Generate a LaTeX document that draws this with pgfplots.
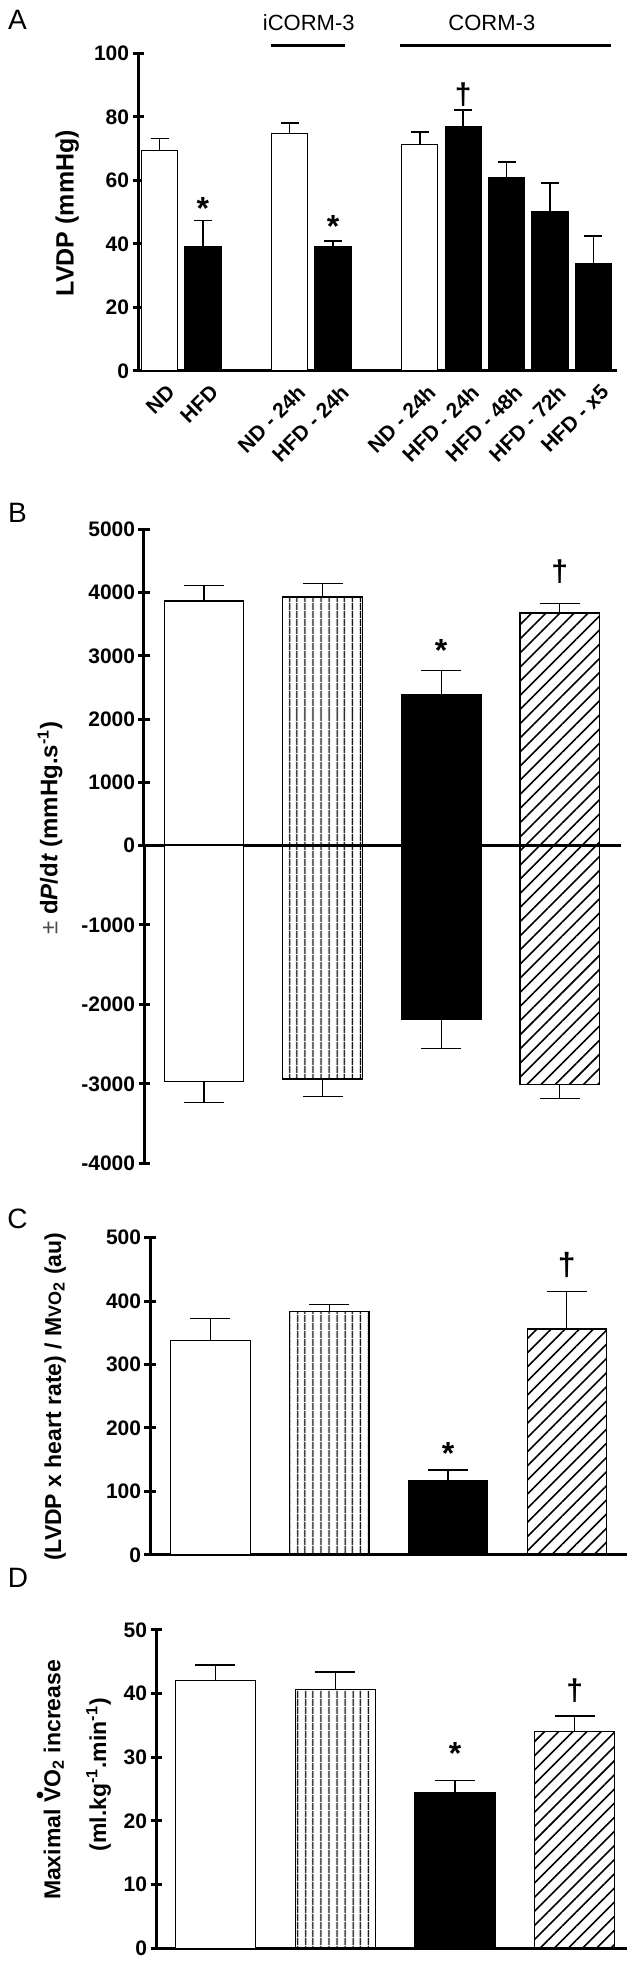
\documentclass[border=0pt]{standalone}
\usepackage{fontspec}
\setmainfont{Liberation Sans}
\usepackage{pgfplots}
\pgfplotsset{compat=1.18}
\usetikzlibrary{patterns.meta}
\newcommand{\fs}[1]{\fontsize{#1}{#1}\selectfont}
\newcommand{\dotV}{\ooalign{V\cr\hidewidth\raisebox{0.55em}{\textbullet}\hidewidth\cr}}
\tikzset{
  astr/.style={font=\bfseries\fs{16}, inner sep=0pt, anchor=north},
  dag/.style={font=\bfseries\fs{15}, inner sep=0pt, anchor=center},
}
\pgfplotsset{
  mypanel/.style={
    scale only axis, anchor=south west, clip=false,
    tick align=outside, ytick pos=left,
    major tick length=5.5pt,
    major tick style={line width=1.5pt, black},
    yticklabel style={font=\bfseries\fs{10.5}, inner sep=1.5pt},
    /pgf/number format/assume math mode=true,
    ylabel style={anchor=center, font=\bfseries\fs{12}},
  },
  noarrows/.style={
    axis line style={-, line width=1.5pt},
    every outer x axis line/.append style={-},
    every outer y axis line/.append style={-},
    every inner x axis line/.append style={-},
    every inner y axis line/.append style={-},
    x axis line style={-}, y axis line style={-},
  },
  wbar/.style={ybar, bar shift=0pt, draw=black, line width=0.6pt, fill=white},
  bbar/.style={ybar, bar shift=0pt, draw=black, line width=0.6pt, fill=black},
  vbar/.style={ybar, bar shift=0pt, draw=black, line width=0.6pt, pattern={Lines[angle=90, distance=4pt, line width=0.7pt]}, pattern color=black},
  hbar/.style={ybar, bar shift=0pt, draw=black, line width=0.6pt, pattern={Lines[angle=45, distance=5pt, line width=0.8pt]}, pattern color=black},
  errup/.style 2 args={error bars/y dir=plus, error bars/y explicit, error bars/error bar style={line width=#1, black, solid}, error bars/error mark options={rotate=90, line width=#1, black, mark size=#2, solid}},
  errdn/.style 2 args={error bars/y dir=minus, error bars/y explicit, error bars/error bar style={line width=#1, black, solid}, error bars/error mark options={rotate=90, line width=#1, black, mark size=#2, solid}},
}
\begin{document}
\begin{tikzpicture}
\path[use as bounding box] (0,0) rectangle (321.5pt,982.5pt);
\node[font=\fs{14}] at (8.75pt,972.5pt) {A};
\node[font=\fs{14}] at (8.75pt,726pt) {B};
\node[font=\fs{14}] at (8.75pt,373pt) {C};
\node[font=\fs{14}] at (9pt,193.5pt) {D};

% ---------------- Panel A
\begin{axis}[mypanel, at={(69pt,797pt)}, width=239.4pt, height=158.85pt,
  axis x line=bottom, axis y line=left, noarrows,
  xmin=-0.496, xmax=10.54, ymin=0, ymax=100, ytick={0,20,40,60,80,100},
  xtick={0,1,3,4,6,7,8,9,10},
  xticklabels={ND,HFD,ND - 24h,HFD - 24h,ND - 24h,HFD - 24h,HFD - 48h,HFD - 72h,HFD - x5},
  xtick style={draw=none},
  xticklabel style={rotate=45, anchor=north east, font=\bfseries\fs{10.5}, inner sep=0pt, yshift=-4.5pt},
  ylabel={LVDP (mmHg)},
  ylabel style={at={(axis description cs:-0.148,0.497)}, font=\bfseries\fs{12.5}},
]
\addplot[wbar, bar width=18pt, errup={0.8pt}{4.5pt}]
  coordinates {(0,69.4) +- (0,3.8) (3,74.7) +- (0,3.3) (6,71.2) +- (0,4.0)};
\addplot[bbar, bar width=18pt, errup={0.8pt}{4.5pt}]
  coordinates {(1,39.1) +- (0,8.3) (4,39.1) +- (0,1.8) (7,76.9) +- (0,5.2) (8,60.9) +- (0,4.8) (9,50.3) +- (0,8.8) (10,33.8) +- (0,8.6)};
\addplot[line width=1.5pt, black] coordinates {(2.57,102.3) (4.27,102.3)};
\addplot[line width=1.5pt, black] coordinates {(5.54,102.3) (10.40,102.3)};
\node[font=\fs{11}] at (axis cs:3.44,109.5) {iCORM-3};
\node[font=\fs{11}] at (axis cs:7.66,109.5) {CORM-3};
\node[astr] at (axis cs:1,54.8) {*};
\node[astr] at (axis cs:4,49.1) {*};
\node[dag] at (axis cs:7,86.9) {†};
\end{axis}

% ---------------- Panel B (positive)
\begin{axis}[mypanel, at={(72pt,559.75pt)}, width=238.5pt, height=158pt,
  axis x line=bottom, axis y line=left, noarrows, axis on top,
  xmin=-0.506, xmax=3.516, ymin=0, ymax=5000,
  ytick={0,1000,2000,3000,4000,5000}, yticklabels={0,1000,2000,3000,4000,5000},
  xtick=\empty,
  ylabel={{\mdseries\color{black!70}±} d\textit{P}/d\textit{t} (mmHg.s\textsuperscript{-1})},
  ylabel style={at={(axis description cs:-0.197,0.055)}},
]
\addplot[wbar, bar width=39.75pt, errup={0.6pt}{10pt}] coordinates {(0,3870) +- (0,243)};
\addplot[vbar, bar width=39.75pt, errup={0.6pt}{10pt}] coordinates {(1,3932) +- (0,215)};
\addplot[bbar, bar width=39.75pt, errup={0.6pt}{10pt}] coordinates {(2,2390) +- (0,378)};
\addplot[hbar, bar width=39.75pt, errup={0.6pt}{10pt}] coordinates {(3,3678) +- (0,152)};
\node[astr] at (axis cs:2,3267) {*};
\node[dag] at (axis cs:3,4328) {†};
\end{axis}

% ---------------- Panel B (negative)
\begin{axis}[mypanel, at={(72pt,400.85pt)}, width=238.5pt, height=158.9pt,
  axis x line=none, axis y line=left, noarrows,
  xmin=-0.506, xmax=3.516, ymin=-4000, ymax=0,
  ytick={-4000,-3000,-2000,-1000}, yticklabels={-4000,-3000,-2000,-1000},
  xtick=\empty,
]
\addplot[wbar, bar width=39.75pt, errdn={0.6pt}{10pt}] coordinates {(0,-2972) +- (0,260)};
\addplot[vbar, bar width=39.75pt, errdn={0.6pt}{10pt}] coordinates {(1,-2938) +- (0,218)};
\addplot[bbar, bar width=39.75pt, errdn={0.6pt}{10pt}] coordinates {(2,-2195) +- (0,357)};
\addplot[hbar, bar width=39.75pt, errdn={0.6pt}{10pt}] coordinates {(3,-3005) +- (0,181)};
\end{axis}

% ---------------- Panel C
\begin{axis}[mypanel, at={(75pt,205pt)}, width=238.5pt, height=158.75pt,
  axis x line=bottom, axis y line=left, noarrows,
  xmin=-0.509, xmax=3.506, ymin=0, ymax=500,
  ytick={0,100,200,300,400,500},
  xtick=\empty,
  ylabel={(LVDP x heart rate) / M{\fs{9}VO}\textsubscript{2} (au)},
  ylabel style={at={(axis description cs:-0.199,0.498)}, font=\bfseries\fs{11.5}},
]
\addplot[wbar, bar width=39.75pt, errup={0.6pt}{10pt}] coordinates {(0,337.2) +- (0,35.1)};
\addplot[vbar, bar width=39.75pt, errup={0.6pt}{10pt}] coordinates {(1,383.8) +- (0,11.0)};
\addplot[bbar, bar width=39.75pt, errup={0.6pt}{10pt}] coordinates {(2,117.3) +- (0,16.7)};
\addplot[hbar, bar width=39.75pt, errup={0.6pt}{10pt}] coordinates {(3,356.0) +- (0,58.7)};
\node[astr] at (axis cs:2,178.4) {*};
\node[dag, font=\bfseries\fs{16}] at (axis cs:3,456.7) {†};
\end{axis}

% ---------------- Panel D
\begin{axis}[mypanel, at={(78pt,8.35pt)}, width=235.5pt, height=159.15pt,
  axis x line=bottom, axis y line=left, noarrows,
  xmin=-0.496, xmax=3.436, ymin=0, ymax=50,
  ytick={0,10,20,30,40,50},
  xtick=\empty,
  ylabel={Maximal \dotV O\textsubscript{2} increase},
  ylabel style={at={(axis description cs:-0.203,0.529)}, anchor=base, font=\bfseries\fs{11.5}},
]
\addplot[wbar, bar width=40pt, errup={0.6pt}{10pt}] coordinates {(0,42.1) +- (0,2.4)};
\addplot[vbar, bar width=40pt, errup={0.6pt}{10pt}] coordinates {(1,40.7) +- (0,2.7)};
\addplot[bbar, bar width=40pt, errup={0.6pt}{10pt}] coordinates {(2,24.4) +- (0,2.0)};
\addplot[hbar, bar width=40pt, errup={0.6pt}{10pt}] coordinates {(3,34.0) +- (0,2.5)};
\node[rotate=90, anchor=base, font=\bfseries\fs{11.5}] at (axis description cs:-0.106,0.545) {(ml.kg\textsuperscript{-1}.min\textsuperscript{-1})};
\node[astr] at (axis cs:2,32.4) {*};
\node[dag] at (axis cs:3,40.4) {†};
\end{axis}
\end{tikzpicture}
\end{document}
